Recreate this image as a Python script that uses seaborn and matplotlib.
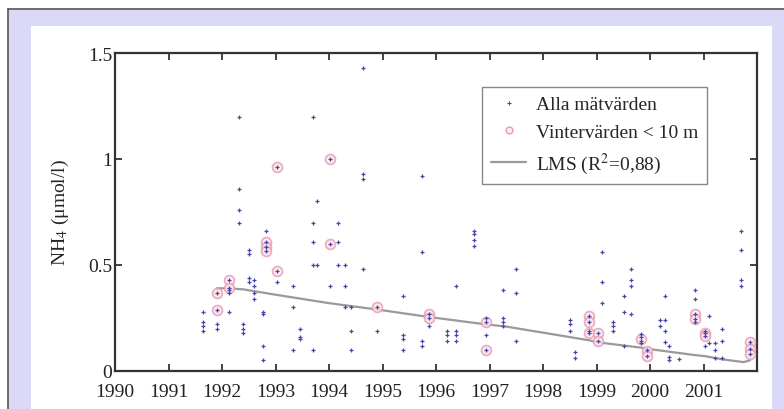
import matplotlib
matplotlib.use("Agg")
import matplotlib.pyplot as plt
import seaborn as sns
import pandas as pd
from matplotlib.patches import Rectangle
from matplotlib.lines import Line2D

# ---- data ----
all_year = [
    1991.65, 1991.65, 1991.65, 1991.65,
    1991.90, 1991.90, 1991.90, 1991.90,
    1992.14, 1992.14, 1992.14, 1992.14, 1992.14,
    1992.32, 1992.32, 1992.32, 1992.32,
    1992.39, 1992.39, 1992.39,
    1992.50, 1992.50, 1992.50, 1992.50,
    1992.60, 1992.60, 1992.60, 1992.60,
    1992.76, 1992.76, 1992.76, 1992.76,
    1992.82, 1992.82, 1992.82, 1992.82,
    1993.02, 1993.02, 1993.02,
    1993.32, 1993.32, 1993.32,
    1993.45, 1993.45, 1993.45,
    1993.71, 1993.71, 1993.71, 1993.71, 1993.71,
    1993.78, 1993.78,
    1994.02, 1994.02, 1994.02,
    1994.17, 1994.17, 1994.17,
    1994.30, 1994.30, 1994.30,
    1994.42, 1994.42, 1994.42,
    1994.64, 1994.64, 1994.64, 1994.64,
    1994.90, 1994.90,
    1995.38, 1995.38, 1995.38, 1995.38,
    1995.73, 1995.73, 1995.73, 1995.73,
    1995.86, 1995.86, 1995.86,
    1996.21, 1996.21, 1996.21,
    1996.37, 1996.37, 1996.37, 1996.37,
    1996.71, 1996.71, 1996.71, 1996.71,
    1996.93, 1996.93, 1996.93, 1996.93,
    1997.26, 1997.26, 1997.26, 1997.26,
    1997.50, 1997.50, 1997.50,
    1998.50, 1998.50, 1998.50,
    1998.60, 1998.60,
    1998.86, 1998.86, 1998.86, 1998.86,
    1999.03, 1999.03,
    1999.10, 1999.10, 1999.10,
    1999.30, 1999.30, 1999.30,
    1999.51, 1999.51, 1999.51,
    1999.64, 1999.64, 1999.64, 1999.64,
    1999.84, 1999.84, 1999.84, 1999.84,
    1999.94, 1999.94,
    2000.19, 2000.19,
    2000.28, 2000.28, 2000.28, 2000.28,
    2000.36, 2000.36, 2000.36,
    2000.55,
    2000.84, 2000.84, 2000.84, 2000.84, 2000.84,
    2001.03, 2001.03, 2001.03, 2001.03,
    2001.10, 2001.10,
    2001.22, 2001.22, 2001.22,
    2001.35, 2001.35, 2001.35,
    2001.71, 2001.71, 2001.71, 2001.71,
    2001.87, 2001.87, 2001.87,
]
all_nh4 = [
    0.28, 0.23, 0.19, 0.21,
    0.37, 0.29, 0.22, 0.20,
    0.43, 0.39, 0.38, 0.37, 0.28,
    1.20, 0.86, 0.76, 0.70,
    0.22, 0.20, 0.18,
    0.57, 0.55, 0.44, 0.42,
    0.43, 0.40, 0.37, 0.34,
    0.28, 0.27, 0.12, 0.05,
    0.66, 0.61, 0.585, 0.566,
    0.96, 0.47, 0.42,
    0.40, 0.30, 0.10,
    0.20, 0.16, 0.15,
    1.20, 0.70, 0.61, 0.50, 0.10,
    0.80, 0.50,
    1.00, 0.60, 0.40,
    0.70, 0.61, 0.50,
    0.50, 0.40, 0.30,
    0.30, 0.19, 0.10,
    1.43, 0.93, 0.905, 0.48,
    0.30, 0.19,
    0.355, 0.17, 0.15, 0.10,
    0.92, 0.56, 0.14, 0.12,
    0.27, 0.25, 0.21,
    0.19, 0.17, 0.14,
    0.40, 0.19, 0.17, 0.14,
    0.66, 0.645, 0.62, 0.59,
    0.25, 0.23, 0.17, 0.10,
    0.38, 0.25, 0.23, 0.21,
    0.48, 0.37, 0.14,
    0.24, 0.22, 0.19,
    0.09, 0.06,
    0.26, 0.23, 0.19, 0.18,
    0.18, 0.14,
    0.56, 0.42, 0.32,
    0.23, 0.21, 0.19,
    0.355, 0.28, 0.12,
    0.48, 0.43, 0.40, 0.27,
    0.175, 0.16, 0.14, 0.13,
    0.10, 0.07,
    0.24, 0.21,
    0.355, 0.24, 0.19, 0.135,
    0.12, 0.065, 0.05,
    0.058,
    0.38, 0.34, 0.27, 0.245, 0.23,
    0.19, 0.18, 0.167, 0.12,
    0.26, 0.13,
    0.13, 0.10, 0.06,
    0.20, 0.14, 0.06,
    0.66, 0.57, 0.43, 0.40,
    0.137, 0.104, 0.08,
]

winter_year = [1991.90, 1991.90, 1992.14, 1992.14, 1992.82, 1992.82, 1992.82,
               1993.02, 1993.02, 1994.02, 1994.02, 1994.90, 1995.86, 1995.86,
               1996.93, 1996.93, 1998.86, 1998.86, 1998.86, 1999.03, 1999.03,
               1999.84, 1999.94, 1999.94, 2000.84, 2000.84, 2001.03, 2001.03,
               2001.87, 2001.87, 2001.87]
winter_nh4 = [0.37, 0.29, 0.43, 0.39, 0.61, 0.585, 0.566,
              0.96, 0.47, 1.00, 0.60, 0.30, 0.27, 0.25,
              0.23, 0.10, 0.26, 0.23, 0.18, 0.18, 0.14,
              0.15, 0.096, 0.072, 0.27, 0.245, 0.18, 0.167,
              0.137, 0.104, 0.08]

lms_year = [1991.90, 1992.14, 1992.40, 1993.00, 1994.00, 1994.90, 1995.86,
            1996.93, 1997.30, 1998.86, 1999.03, 1999.84, 1999.94, 2000.84,
            2001.03, 2001.35, 2001.75, 2001.87]
lms_nh4 = [0.39, 0.39, 0.385, 0.36, 0.32, 0.29, 0.255,
           0.22, 0.21, 0.145, 0.135, 0.11, 0.105, 0.075,
           0.07, 0.055, 0.042, 0.05]

year_ticks = list(range(1990, 2002))
y_ticks = [0, 0.5, 1, 1.5]
y_tick_labels = ["0", "0.5", "1", "1.5"]
legend_labels = ["Alla mätvärden", "Vintervärden < 10 m", "LMS (R$^2$=0,88)"]

df_all = pd.DataFrame({"year": all_year, "nh4": all_nh4})
df_win = pd.DataFrame({"year": winter_year, "nh4": winter_nh4})
df_lms = pd.DataFrame({"year": lms_year, "nh4": lms_nh4})

# ---- style ----
sns.set_style("ticks")
plt.rcParams["font.family"] = ["Liberation Serif", "DejaVu Serif"]
plt.rcParams["mathtext.fontset"] = "stix"

W, H = 784, 410
fig = plt.figure(figsize=(W / 100, H / 100), dpi=100, facecolor="white")

# lavender frame and white panel
fig.patches.append(Rectangle((8 / W, 0), 1 - 8 / W, (H - 10) / H,
                             transform=fig.transFigure, facecolor="#dadaf8",
                             edgecolor="none", zorder=-3))
fig.patches.append(Rectangle((31 / W, 0), (772 - 31) / W, (H - 27) / H,
                             transform=fig.transFigure, facecolor="white",
                             edgecolor="none", zorder=-2))
fig.lines.append(Line2D([8 / W, 1], [(H - 10) / H] * 2, transform=fig.transFigure,
                        color="#555555", lw=1.2, zorder=-1))
fig.lines.append(Line2D([8 / W, 8 / W], [0, (H - 10) / H], transform=fig.transFigure,
                        color="#555555", lw=1.2, zorder=-1))

ax = fig.add_axes([115 / W, (H - 372) / H, (757 - 115) / W, (372 - 54) / H])
ax.set_facecolor("white")

sns.lineplot(data=df_lms, x="year", y="nh4", ax=ax, color="#9a9a9a", lw=1.6,
             zorder=2, legend=False)
sns.scatterplot(data=df_win, x="year", y="nh4", ax=ax, marker="o", s=50,
                facecolor="#fbe9f0", edgecolor="#eb9ab2", linewidth=1.3,
                alpha=0.8, zorder=3, legend=False)
sns.scatterplot(data=df_all, x="year", y="nh4", ax=ax, marker="+", s=12,
                color="#4444aa", linewidth=0.9, zorder=4, legend=False)

ax.set_xlim(1990, 2002)
ax.set_ylim(0, 1.5)
ax.set_xticks(year_ticks)
ax.set_xticklabels([str(y) for y in year_ticks])
ax.set_yticks(y_ticks)
ax.set_yticklabels(y_tick_labels)
ax.set_xlabel("")
ax.set_ylabel("NH$_4$ (μmol/l)", fontsize=14, labelpad=12)
ax.tick_params(direction="in", length=5, width=1.2, top=True, right=True,
               labelsize=14, colors="#222222")
ax.tick_params(axis="y", pad=2)
ax.tick_params(axis="x", pad=9)
for sp in ax.spines.values():
    sp.set_linewidth(1.6)
    sp.set_color("#333333")

handles = [
    Line2D([], [], ls="none", marker="+", ms=3, mew=0.8, color="#4444aa"),
    Line2D([], [], ls="none", marker="o", ms=5, mfc="#fbe9f0", mec="#eb9ab2", mew=1.0),
    Line2D([], [], color="#9a9a9a", lw=1.6),
]
leg = ax.legend(handles, legend_labels, loc="upper right",
                bbox_to_anchor=(0.922, 0.893), fontsize=14, frameon=True,
                fancybox=False, edgecolor="#888888", framealpha=1,
                handlelength=1.8, handletextpad=0.5, borderpad=0.45,
                labelspacing=0.5, borderaxespad=0)
leg.get_frame().set_linewidth(1.0)

fig.savefig("out.png", dpi=100, facecolor="white")
